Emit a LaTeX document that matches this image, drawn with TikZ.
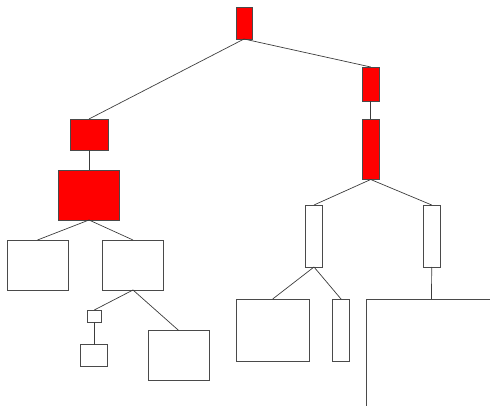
\documentclass[tikz,border=0pt]{standalone}
\usepackage{tikz}
\usetikzlibrary{positioning}
\definecolor{cR}{HTML}{ff0000}
\definecolor{cE}{HTML}{4a4a4a}
\definecolor{cL}{HTML}{3c3c3c}
\tikzset{
  nd/.style={rectangle,draw=cE,line width=0.8pt,inner sep=0pt,outer sep=0pt},
  rbox/.style={nd,fill=cR},
  wbox/.style={nd,fill=white},
  link/.style={draw=cL,line width=0.7pt},
}

\begin{document}
\begin{tikzpicture}[x=1pt,y=-1pt]
  \useasboundingbox (0,0) rectangle (490,406);
  \clip (0,0) rectangle (490,406);
  % red spine
  \node[rbox,minimum width=16pt,minimum height=32pt] (root) at (244,23) {};
  \node[rbox,minimum width=38pt,minimum height=31pt] (la) at (89,134.5) {};
  \node[rbox,minimum width=61pt,minimum height=50pt] (lb) at (89,195) {};
  \node[rbox,minimum width=17pt,minimum height=34pt] (ra) at (370.7,84) {};
  \node[rbox,minimum width=17pt,minimum height=60pt] (rb) at (370.7,149.5) {};
  % left subtree
  \node[wbox,minimum width=61pt,minimum height=50pt] (lc) at (37.5,265) {};
  \node[wbox,minimum width=61pt,minimum height=50pt] (ld) at (133,265) {};
  \node[wbox,minimum width=14pt,minimum height=12pt] (le) at (94.3,316) {};
  \node[wbox,minimum width=27pt,minimum height=22pt] (lf) at (94.3,355.5) {};
  \node[wbox,minimum width=61pt,minimum height=50pt] (lg) at (178.7,355.5) {};
  % right subtree
  \node[wbox,minimum width=17pt,minimum height=62pt] (rc) at (314,236) {};
  \node[wbox,minimum width=17pt,minimum height=62pt] (rd) at (431.7,236) {};
  \node[wbox,minimum width=73pt,minimum height=62pt] (re) at (272.7,330) {};
  \node[wbox,minimum width=17pt,minimum height=62pt] (rf) at (341,330) {};
  \node[wbox,minimum width=131pt,minimum height=200pt] (rg) at (431.5,399) {};
  % edges
  \draw[link] (root.south) -- (la.north);
  \draw[link] (root.south) -- (ra.north);
  \draw[link] (la.south) -- (lb.north);
  \draw[link] (ra.south) -- (rb.north);
  \draw[link] (lb.south) -- (lc.north);
  \draw[link] (lb.south) -- (ld.north);
  \draw[link] (ld.south) -- (le.north);
  \draw[link] (ld.south) -- (lg.north);
  \draw[link] (le.south) -- (lf.north);
  \draw[link] (rb.south) -- (rc.north);
  \draw[link] (rb.south) -- (rd.north);
  \draw[link] (rc.south) -- (re.north);
  \draw[link] (rc.south) -- (rf.north);
  \draw[link] (rd.south) -- (rg.north);
\end{tikzpicture}
\end{document}
